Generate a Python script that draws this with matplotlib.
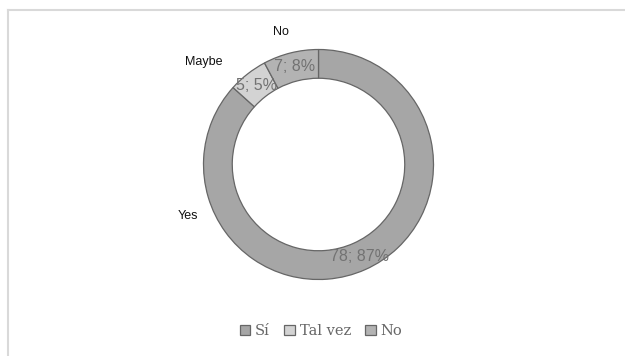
import numpy as np
import matplotlib.pyplot as plt
from matplotlib.lines import Line2D

# respuestas de la encuesta
categorias = ['Sí', 'Tal vez', 'No']
respuestas = [78, 5, 7]
porcentajes = ['87%', '5%', '8%']
etiquetas_en = ['Yes', 'Maybe', 'No']

colores = ['#a6a6a6', '#d3d3d3', '#b3b3b3']

fig = plt.figure(figsize=(6.25, 3.56), dpi=100)
fig.patch.set_facecolor('white')

# marco gris claro del área del gráfico
fig.add_artist(Line2D([8/625, 1.02], [1 - 10/356, 1 - 10/356], color='#d9d9d9', lw=1.5,
                      transform=fig.transFigure))
fig.add_artist(Line2D([8/625, 8/625], [-0.02, 1 - 10/356], color='#d9d9d9', lw=1.5,
                      transform=fig.transFigure))

cx, cy, r = 318.5, 164.5, 115
ax = fig.add_axes([(cx - r)/625, (356 - cy - r)/356, 2*r/625, 2*r/356])

wedges, _ = ax.pie(respuestas, colors=colores, startangle=90, counterclock=False,
                   radius=1.0,
                   wedgeprops=dict(width=0.25, edgecolor='#666666', linewidth=0.9))
# pie() cambia los límites, así que se fijan después
ax.set_xlim(-1, 1)
ax.set_ylim(-1, 1)
ax.set_aspect('equal')
ax.axis('off')

# etiquetas de datos: valor; porcentaje, en el centro del anillo
for w, n, p in zip(wedges, respuestas, porcentajes):
    ang = np.deg2rad((w.theta1 + w.theta2) / 2)
    rr = 0.875
    ax.text(rr*np.cos(ang), rr*np.sin(ang), f'{n}; {p}', ha='center', va='center',
            fontsize=11.5, color='#727272', family='Liberation Sans')

# etiquetas en inglés fuera del anillo
pos_en = {'Yes': (188, 216), 'Maybe': (204, 62), 'No': (281, 32)}
for t in etiquetas_en:
    x, y = pos_en[t]
    fig.text(x/625, 1 - y/356, t, ha='center', va='center', fontsize=9,
             color='#111111', family='Liberation Sans')

leg = fig.legend(wedges, categorias, loc='center', ncol=3,
                 bbox_to_anchor=(321/625, 1 - 331/356), frameon=False,
                 handlelength=0.75, handleheight=0.75, handletextpad=0.3,
                 columnspacing=1.0, prop={'family': 'DejaVu Serif', 'size': 10.5})
for txt in leg.get_texts():
    txt.set_color('#666666')

fig.savefig('out.png', dpi=100, facecolor='white')
